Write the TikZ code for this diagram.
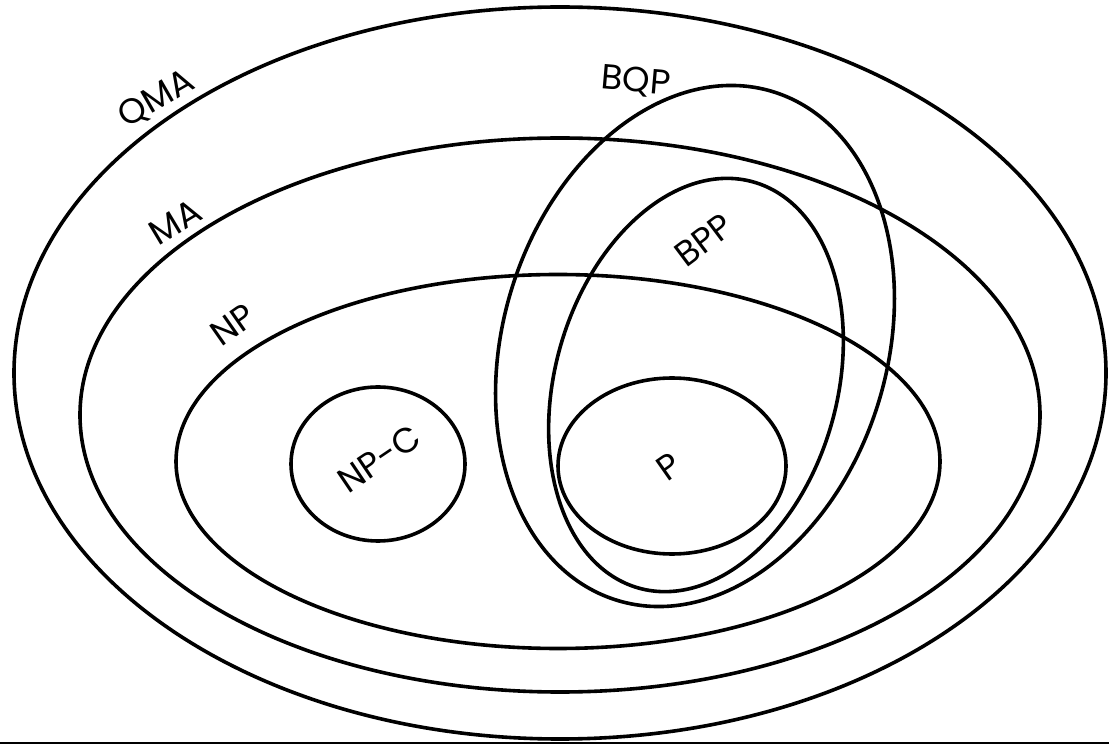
\documentclass[tikz,border=0pt]{standalone}
\usepackage{fontspec}
\setmainfont{Poppins}
\usepackage{tikz}
\tikzset{
  setline/.style = {draw=black, line width=3.6pt},% outline of a class
  setlabel/.style = {inner sep=0pt, anchor=center, font=\fontsize{35}{35}\selectfont},% class name
}

\begin{document}
\begin{tikzpicture}[x=1pt,y=1pt]
  \useasboundingbox (0,0) rectangle (1109,745);

  % centres of the classes
  \coordinate (qmac) at (560,372);
  \coordinate (mac) at (560,330);
  \coordinate (npc) at (558,283.5);
  \coordinate (npcc) at (378,281);
  \coordinate (pc) at (672,279);
  \coordinate (bqpc) at (695,399);
  \coordinate (bppc) at (696,360);

  % nested classes
  \draw[setline] (qmac) ellipse [x radius=546pt, y radius=366pt];
  \draw[setline] (mac) ellipse [x radius=480pt, y radius=277pt];
  \draw[setline] (npc) ellipse [x radius=382pt, y radius=187pt];
  \draw[setline] (npcc) ellipse [x radius=87pt, y radius=77pt];
  \draw[setline] (pc) ellipse [x radius=114pt, y radius=88pt];
%   quantum and randomised
  \draw[setline, rotate around={-17:(bqpc)}] (bqpc) ellipse [x radius=192pt, y radius=266pt];
  \draw[setline, rotate around={-15.8:(bppc)}] (bppc) ellipse [x radius=141pt, y radius=211pt];

  % names
  \node[setlabel, rotate=30] (qma) at (157,646) {QMA};
  \node[setlabel, rotate=31] (ma) at (175,523) {MA};
  \node[setlabel, rotate=35] (np) at (233,420) {NP};
  \node[setlabel, rotate=-5] (bqp) at (636,663) {BQP};
  \node[setlabel, rotate=37] (bpp) at (704,505) {BPP};
  \node[setlabel, rotate=34] (npcomplete) at (379,286) {NP-C};
  \node[setlabel, rotate=35] (p) at (669,278) {P};

  \coordinate (rule0) at (0,2);
  \coordinate (rule1) at (1109,2);
  \draw[line width=2pt] (rule0) -- (rule1);
\end{tikzpicture}
\end{document}
